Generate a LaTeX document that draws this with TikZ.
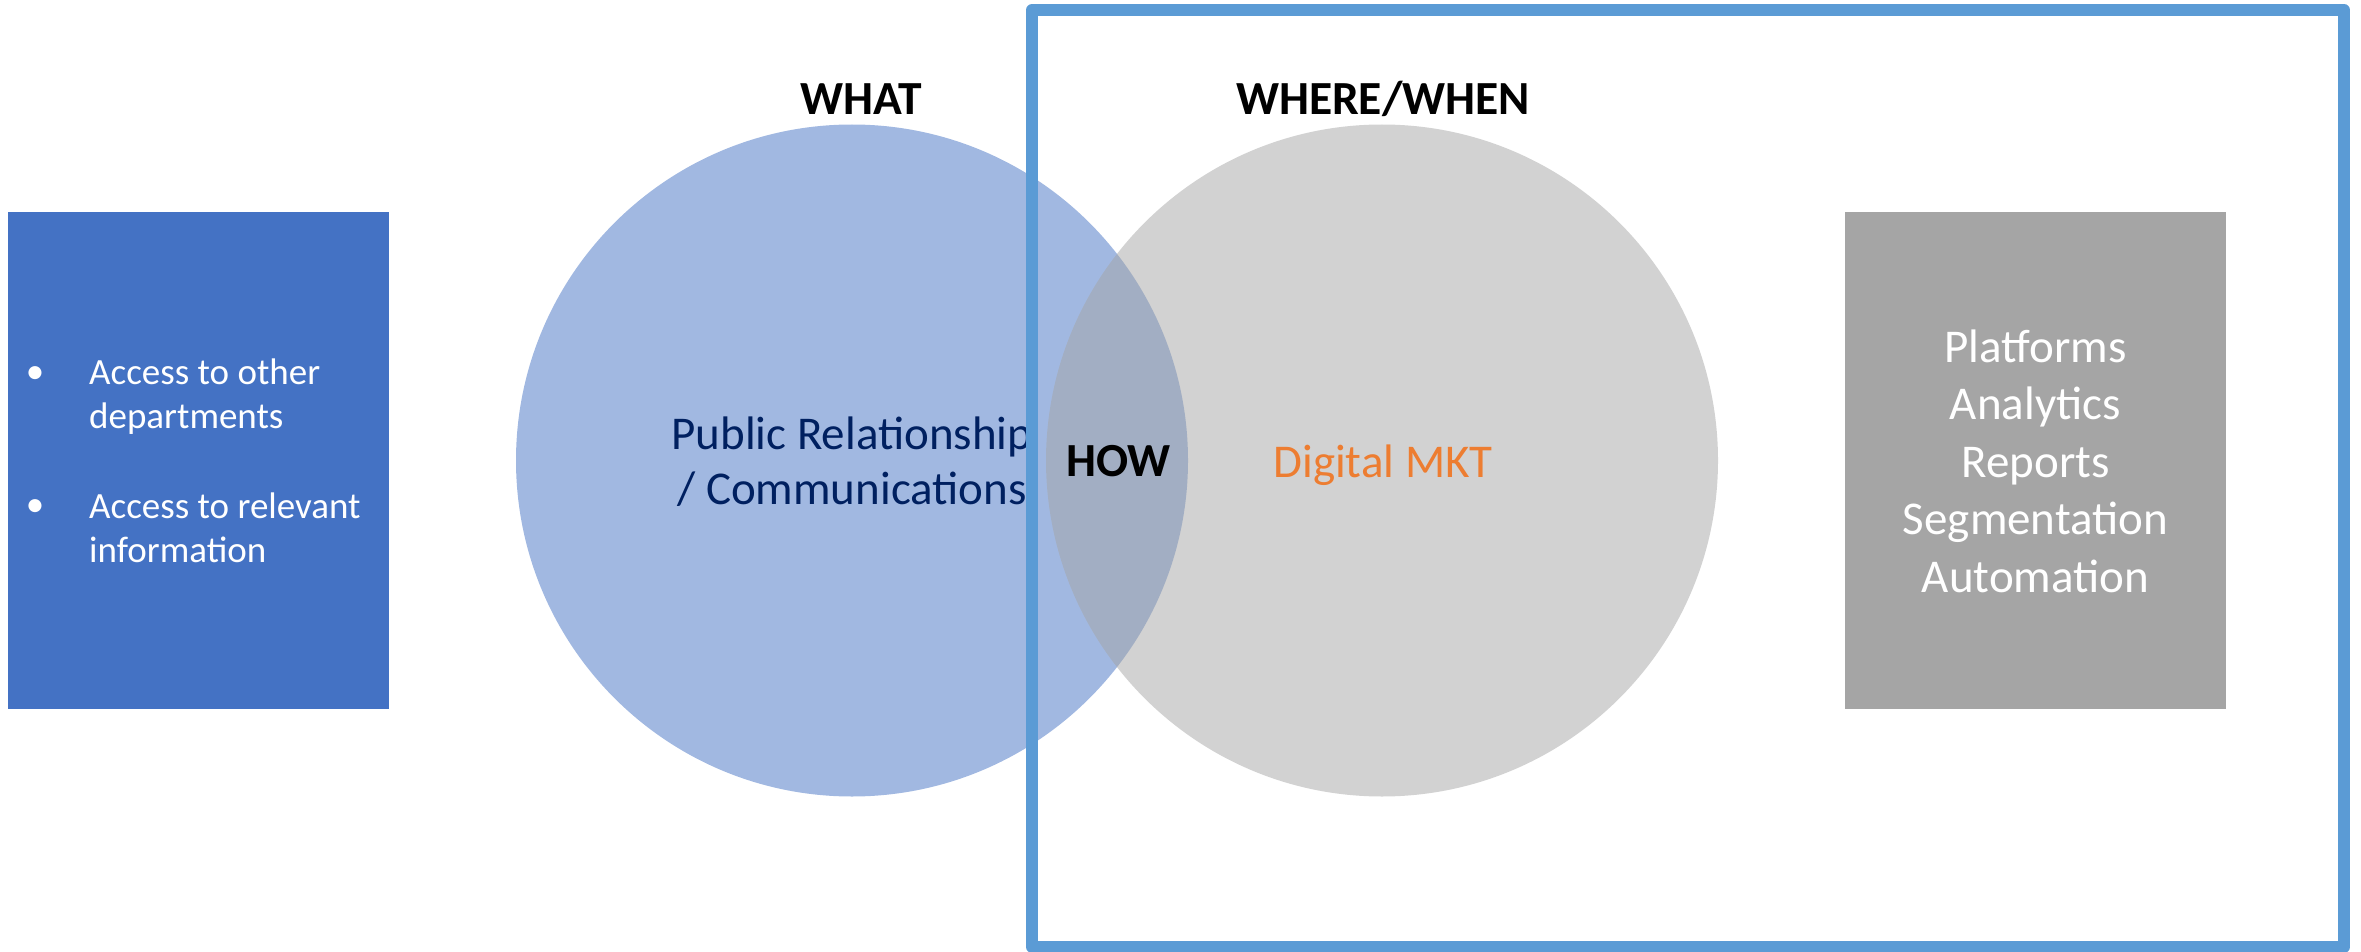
\documentclass[tikz,border=0pt]{standalone}
\usepackage{fontspec}
\setmainfont{Carlito}
\definecolor{boxblue}{HTML}{4472C4}
\definecolor{boxgrey}{HTML}{A5A5A5}
\definecolor{framebl}{HTML}{5B9BD5}
\definecolor{navytxt}{HTML}{002060}
\definecolor{orangetx}{HTML}{ED7D31}
\tikzset{
  panel/.style={draw=none, inner sep=0pt, minimum width=381, minimum height=497},
  setdisc/.style={circle, draw=none, inner sep=0pt, minimum size=672, fill opacity=0.5},
  heading/.style={font=\fontsize{47.5}{57}\selectfont\bfseries, text=black, inner sep=0pt, anchor=base},
  listfont/.style={font=\fontsize{37}{44}\selectfont, text=white, inner sep=0pt},
}
\begin{document}
\begin{tikzpicture}[x=1pt, y=-1pt]
  \useasboundingbox (0,0) rectangle (2361,952);

  % side panels
  \node[panel, fill=boxblue] (leftpanel) at (198,460.5) {};
  \node[panel, fill=boxgrey] (rightpanel) at (2035.5,460.5) {};

  % the two sets
  \node[setdisc, fill=boxblue] (prset) at (852,460.5) {};
  \node[setdisc, fill=boxgrey] (mktset) at (1382,460.5) {};

  % bullet list in the left panel
  \node[listfont, align=left, anchor=west]
    (access) at (89,461) {Access to other\\departments\\[46pt]Access to relevant\\information};
  \node[listfont, anchor=base] (bulletA) at (35,383) {•};
  \node[listfont, anchor=base] (bulletB) at (35,516) {•};

  % list in the right panel
  \node[font=\fontsize{47}{57.5}\selectfont, text=white, align=center, inner sep=0pt]
    (tools) at (2035.5,461) {Platforms\\Analytics\\Reports\\Segmentation\\Automation};

  % label of the left set, cut off at the frame
  \begin{scope}
    \clip (0,0) rectangle (1032,952);
    \node[font=\fontsize{47}{55}\selectfont, text=navytxt, align=center, inner sep=0pt]
      (prlabel) at (852,462) {Public Relationship\\/ Communications};
  \end{scope}

  % labels of the right set and the overlap
  \node[font=\fontsize{47}{57}\selectfont, text=orangetx, inner sep=0pt, anchor=base] (mktlabel) at (1383,477) {Digital MKT};
  \node[heading] (how) at (1118.5,476) {HOW};

  % headings above the sets
  \node[heading] (what) at (861,115) {WHAT};
  \node[heading] (wherewhen) at (1383,115) {WHERE/WHEN};

  % frame round the digital side
  \draw[framebl, line width=12, line join=round] (1032,10) rectangle (2344,947);
\end{tikzpicture}
\end{document}
